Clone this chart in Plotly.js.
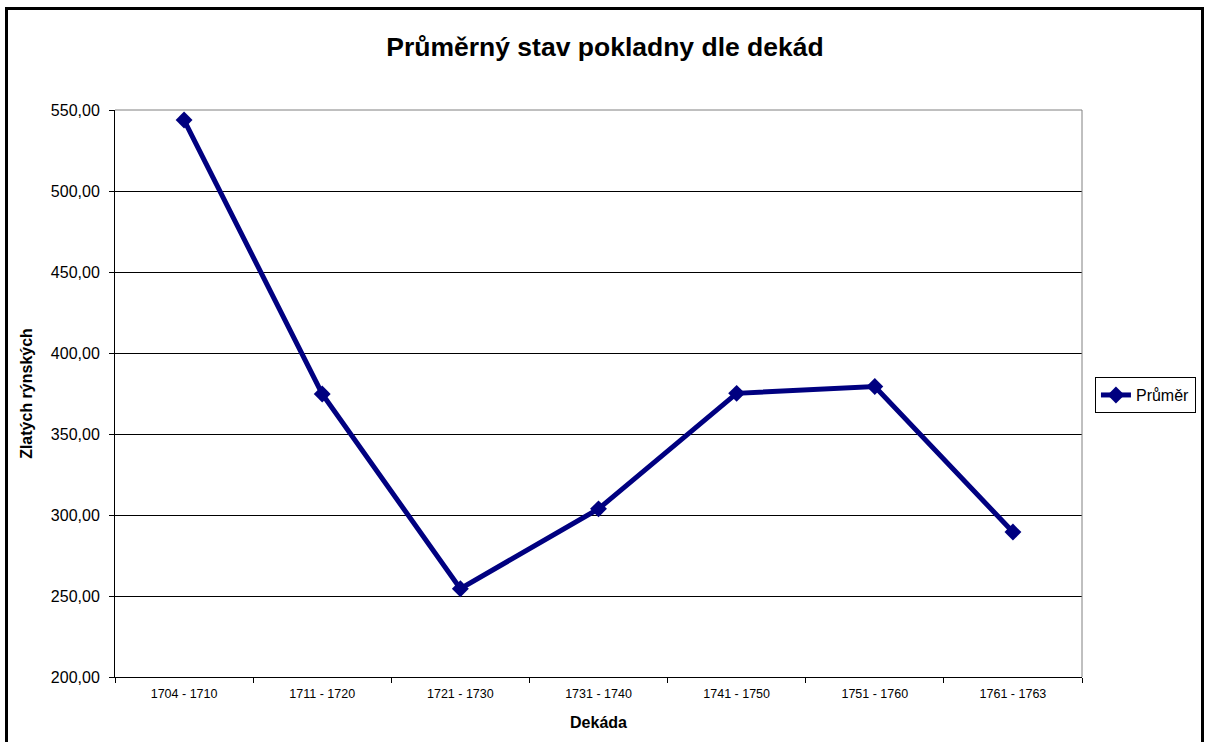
<!DOCTYPE html>
<html>
<head>
<meta charset="utf-8">
<script src="https://cdn.plot.ly/plotly-3.0.1.min.js"></script>
<style>
html,body{margin:0;padding:0;background:#fff;}
#chart{width:1210px;height:742px;}
</style>
</head>
<body>
<div id="chart"></div>
<script>
var categories = ["1704 - 1710", "1711 - 1720", "1721 - 1730", "1731 - 1740", "1741 - 1750", "1751 - 1760", "1761 - 1763"];
var prumer = [543.8, 374.7, 254.5, 303.8, 375.1, 379.3, 289.5];
var seriesName = "Průměr";
var yTicks = [200, 250, 300, 350, 400, 450, 500, 550];

var FONT = "Liberation Sans, Arial, sans-serif";

var trace = {
  x: categories,
  y: prumer,
  type: "scatter",
  mode: "lines+markers",
  name: seriesName,
  line: {color: "#000080", width: 5},
  marker: {symbol: "diamond", size: 13, color: "#000080"},
  hoverinfo: "x+y"
};

var layout = {
  width: 1210,
  height: 742,
  margin: {l: 115, r: 128, t: 110, b: 65},
  paper_bgcolor: "#ffffff",
  plot_bgcolor: "#ffffff",
  separators: ", ",
  font: {family: FONT, color: "#000000"},
  title: {
    text: "<b>Průměrný stav pokladny dle dekád</b>",
    font: {family: FONT, size: 26.5, color: "#000000"},
    x: 0.5, xref: "container", xanchor: "center",
    y: 1 - 47 / 742, yref: "container", yanchor: "middle"
  },
  xaxis: {
    type: "category",
    range: [-0.5, categories.length - 0.5],
    tickson: "boundaries",
    ticks: "outside",
    ticklen: 5,
    tickcolor: "#000000",
    ticklabelstandoff: 5,
    showline: true,
    linecolor: "#000000",
    linewidth: 1,
    showgrid: false,
    zeroline: false,
    tickfont: {family: FONT, size: 12.5, color: "#000000"},
    title: {text: "<b>Dekáda</b>", font: {family: FONT, size: 16, color: "#000000"}, standoff: 16},
    fixedrange: true
  },
  yaxis: {
    range: [200, 550],
    tickvals: yTicks,
    tickformat: ".2f",
    ticks: "outside",
    ticklen: 5,
    tickcolor: "#000000",
    ticklabelstandoff: 6,
    showline: true,
    linecolor: "#000000",
    linewidth: 1,
    showgrid: true,
    gridcolor: "#000000",
    gridwidth: 1,
    zeroline: false,
    tickfont: {family: FONT, size: 16, color: "#000000"},
    title: {text: "<b>Zlatých rýnských</b>", font: {family: FONT, size: 16, color: "#000000"}, standoff: 14},
    fixedrange: true
  },
  showlegend: true,
  legend: {
    x: 1.0134, xanchor: "left",
    y: 0.529, yanchor: "top",
    bgcolor: "#ffffff",
    bordercolor: "#000000",
    borderwidth: 1,
    font: {family: FONT, size: 16, color: "#000000"},
    itemwidth: 30,
    tracegroupgap: 0
  },
  shapes: [
    {type: "line", xref: "paper", yref: "paper", x0: 0, x1: 1, y0: 1, y1: 1, line: {color: "#808080", width: 1}, layer: "above"},
    {type: "line", xref: "paper", yref: "paper", x0: 1, x1: 1, y0: 0, y1: 1, line: {color: "#808080", width: 1}, layer: "above"},
    {type: "rect", xref: "paper", yref: "paper",
     x0: (6.5 - 115) / 967, x1: (1202.5 - 115) / 967,
     y0: (677 - 770) / 567, y1: (677 - 8.5) / 567,
     line: {color: "#000000", width: 3}, fillcolor: "rgba(0,0,0,0)", layer: "above"}
  ]
};

Plotly.newPlot("chart", [trace], layout, {displayModeBar: false, staticPlot: true});
</script>
</body>
</html>
